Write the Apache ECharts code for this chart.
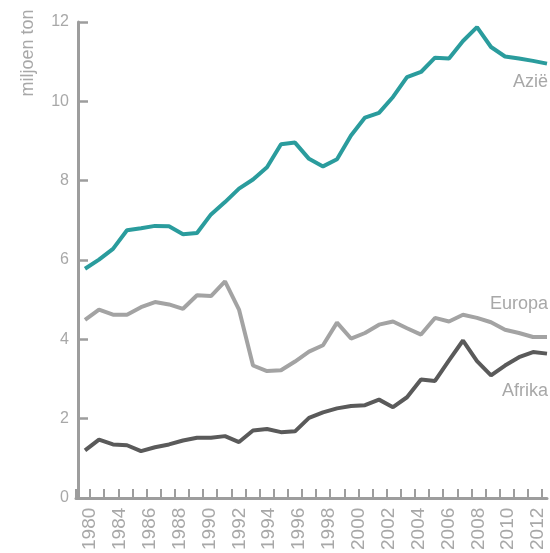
<!DOCTYPE html>
<html>
<head>
<meta charset="utf-8">
<script src="https://cdn.jsdelivr.net/npm/echarts@6/dist/echarts.min.js"></script>
<style>
  html, body { margin: 0; padding: 0; background: #fff; }
</style>
</head>
<body>
<div id="main" style="width: 550px;height: 553px;"></div>
<script>
  // jaren (34 punten, 1980-2013)
  var years = [];
  for (var y = 1980; y <= 2013; y++) years.push(String(y));

  var tickLabels = ['1980', '1984', '1986', '1988', '1990', '1992', '1994', '1996',
    '1998', '2000', '2002', '2004', '2006', '2008', '2010', '2012'];

  var azie = [5.78, 6.01, 6.28, 6.75, 6.80, 6.86, 6.85, 6.65, 6.68, 7.15,
    7.46, 7.80, 8.03, 8.34, 8.92, 8.96, 8.55, 8.36, 8.54, 9.14,
    9.59, 9.71, 10.11, 10.61, 10.74, 11.10, 11.08, 11.52, 11.87, 11.37,
    11.13, 11.08, 11.02, 10.95];

  var europa = [4.49, 4.75, 4.62, 4.62, 4.81, 4.94, 4.88, 4.77, 5.11, 5.09,
    5.46, 4.75, 3.34, 3.20, 3.22, 3.44, 3.69, 3.85, 4.42, 4.02,
    4.16, 4.37, 4.45, 4.28, 4.12, 4.54, 4.45, 4.62, 4.54, 4.43,
    4.24, 4.16, 4.06, 4.06];

  var afrika = [1.20, 1.47, 1.35, 1.33, 1.18, 1.28, 1.35, 1.45, 1.52, 1.52,
    1.56, 1.41, 1.70, 1.74, 1.66, 1.68, 2.02, 2.16, 2.26, 2.32,
    2.34, 2.48, 2.29, 2.54, 2.99, 2.95, 3.47, 3.97, 3.45, 3.09,
    3.34, 3.55, 3.68, 3.64];

  var font = 'Liberation Sans, Arial, sans-serif';
  var axisColor = '#9d9d9d';
  var textColor = '#a8a8a8';

  var chart = echarts.init(document.getElementById('main'));
  chart.setOption({
    animation: false,
    grid: [
      { left: 85, right: 3, top: 22, bottom: 55 },
      { left: 76, right: 8, top: 22, bottom: 55 },
      { left: 90, right: 12, top: 22, bottom: 55 }
    ],
    xAxis: [{
      gridIndex: 0,
      type: 'category',
      data: years,
      boundaryGap: false,
      axisLine: { lineStyle: { color: axisColor, width: 3 } },
      axisTick: { show: false },
      axisLabel: { show: false }
    }, {
      // maatstreepjes
      gridIndex: 1,
      type: 'value',
      min: -1,
      max: 32,
      interval: 1,
      axisLine: { lineStyle: { color: axisColor, width: 3 } },
      axisTick: { inside: true, length: 9, lineStyle: { color: axisColor, width: 2 } },
      axisLabel: { show: false },
      splitLine: { show: false }
    }, {
      // jaartallen
      gridIndex: 2,
      type: 'category',
      data: tickLabels,
      boundaryGap: false,
      axisLine: { show: false },
      axisTick: { show: false },
      axisLabel: {
        interval: 0,
        rotate: 90,
        margin: 10,
        color: textColor,
        fontSize: 19,
        fontFamily: font
      }
    }],
    yAxis: [{
      gridIndex: 0,
      type: 'value',
      min: 0,
      max: 12,
      interval: 2,
      offset: 7,
      axisLine: { show: true, lineStyle: { color: axisColor, width: 3 } },
      axisTick: { show: true, inside: true, length: 10, lineStyle: { color: axisColor, width: 2.5 } },
      axisLabel: { margin: 9, color: textColor, fontSize: 16, fontFamily: font },
      splitLine: { show: false }
    }, {
      gridIndex: 1, type: 'value', min: 0, max: 1, show: false
    }, {
      gridIndex: 2, type: 'value', min: 0, max: 1, show: false
    }],
    graphic: [{
      type: 'text',
      x: 28, y: 53,
      rotation: Math.PI / 2,
      style: {
        text: 'miljoen ton', fill: textColor, font: '18px ' + font,
        textAlign: 'center', textVerticalAlign: 'middle', align: 'center', verticalAlign: 'middle'
      }
    }, {
      type: 'text',
      x: 548, y: 82,
      style: {
        text: 'Azië', fill: textColor, font: '18px ' + font,
        textAlign: 'right', textVerticalAlign: 'middle', align: 'right', verticalAlign: 'middle'
      }
    }, {
      type: 'text',
      x: 548, y: 304,
      style: {
        text: 'Europa', fill: textColor, font: '18px ' + font,
        textAlign: 'right', textVerticalAlign: 'middle', align: 'right', verticalAlign: 'middle'
      }
    }, {
      type: 'text',
      x: 548, y: 391,
      style: {
        text: 'Afrika', fill: textColor, font: '18px ' + font,
        textAlign: 'right', textVerticalAlign: 'middle', align: 'right', verticalAlign: 'middle'
      }
    }],
    series: [{
      name: 'Europa',
      type: 'line',
      xAxisIndex: 0,
      yAxisIndex: 0,
      data: europa,
      showSymbol: false,
      lineStyle: { color: '#a3a3a3', width: 4 }
    }, {
      name: 'Afrika',
      type: 'line',
      xAxisIndex: 0,
      yAxisIndex: 0,
      data: afrika,
      showSymbol: false,
      lineStyle: { color: '#5a5a5a', width: 4 }
    }, {
      name: 'Azië',
      type: 'line',
      xAxisIndex: 0,
      yAxisIndex: 0,
      data: azie,
      showSymbol: false,
      lineStyle: { color: '#2a9c9d', width: 4 }
    }]
  });
</script>
</body>
</html>
